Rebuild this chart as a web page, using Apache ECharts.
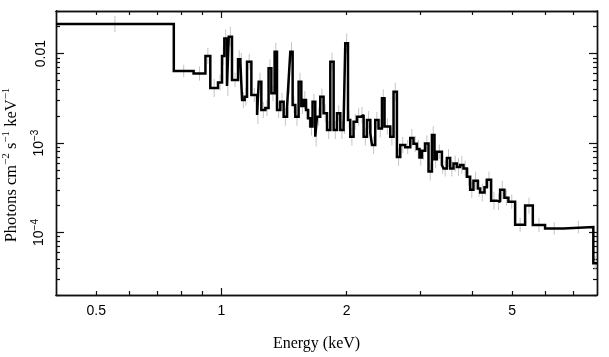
<!DOCTYPE html>
<html><head><meta charset="utf-8">
<script src="https://cdn.jsdelivr.net/npm/echarts@6/dist/echarts.min.js"></script>
<style>html,body{margin:0;padding:0;background:#fff}#c{width:609px;height:357px}</style>
</head><body><div id="c"></div>
<script>
// Bin edges (keV)
const binEdges = [0.4,0.768,0.857,0.915,0.940,0.981,1.003,1.016,1.031,1.041,1.060,1.096,1.110,1.121,1.137,1.152,1.180,1.218,1.229,1.247,1.275,1.298,1.318,1.342,1.360,1.385,1.411,1.438,1.448,1.464,1.483,1.505,1.533,1.556,1.576,1.597,1.615,1.636,1.656,1.681,1.697,1.728,1.760,1.794,1.827,1.861,1.896,1.931,1.966,1.985,2.015,2.040,2.078,2.118,2.157,2.197,2.238,2.280,2.301,2.343,2.386,2.432,2.467,2.546,2.593,2.642,2.691,2.766,2.844,2.896,2.951,2.994,3.034,3.090,3.147,3.207,3.253,3.296,3.389,3.419,3.484,3.548,3.614,3.682,3.750,3.819,3.892,3.963,4.036,4.136,4.189,4.290,4.347,4.451,4.594,4.679,4.791,4.898,5.084,5.373,5.607,6.001,6.641,7.839,8.0];
// Flux per bin (photons cm^-2 s^-1 keV^-1)
const flux = [0.0215,0.0064,0.0060,0.0094,0.00413,0.00476,0.0094,0.0148,0.00435,0.0155,
0.00508,0.00865,0.00813,0.00303,0.00330,0.00813,0.00345,0.00206,0.00486,0.00234,
0.00247,0.00686,0.00360,0.0105,0.00234,0.00290,0.00197,0.00255,0.00446,0.0105,
0.00267,0.00197,0.00486,0.00260,0.00303,0.00234,0.00189,0.00153,0.00290,0.00118,
0.00197,0.00330,0.00215,0.00140,0.00813,0.00140,0.00215,0.00140,0.00159,0.01305,
0.00181,0.00118,0.00173,0.00197,0.00206,0.00118,0.00181,0.00129,0.00095,0.00181,
0.00146,0.00317,0.00153,0.00118,0.00376,0.00070,0.00095,0.00090,0.00114,0.00098,
0.00086,0.00069,0.00082,0.00099,0.00048,0.00123,0.00066,0.00080,0.00057,0.00052,
0.00068,0.00052,0.00059,0.00054,0.00057,0.00052,0.00042,0.00030,0.00038,0.00031,
0.00028,0.00032,0.00039,0.000227,0.000221,0.00030,0.000245,0.000221,0.000122,0.000200,
0.000121,0.000111,0.000115,0.0000452];
// Error bar half-length per bin (dex)
const errDex = [0.09,0.07,0.08,0.09,0.1,0.09,0.1,0.1,0.11,0.11,
0.08,0.1,0.1,0.09,0.1,0.09,0.08,0.1,0.1,0.09,
0.09,0.1,0.09,0.1,0.09,0.1,0.1,0.09,0.1,0.11,
0.09,0.1,0.1,0.09,0.1,0.09,0.1,0.1,0.09,0.11,
0.1,0.09,0.1,0.1,0.1,0.1,0.09,0.1,0.1,0.11,
0.1,0.1,0.09,0.1,0.09,0.1,0.1,0.1,0.1,0.09,
0.1,0.1,0.09,0.1,0.1,0.1,0.09,0.08,0.1,0.09,
0.1,0.09,0.1,0.09,0.1,0.1,0.1,0.08,0.1,0.09,
0.1,0.09,0.09,0.1,0.1,0.09,0.1,0.09,0.1,0.09,
0.1,0.09,0.09,0.1,0.09,0.1,0.09,0.08,0.08,0.09,
0.08,0.07,0.07,0.08];

const xRange = [0.4, 8];
const yRange = [2e-5, 0.03];
const xMajorTicks = [1];
const xMinorTicks = [0.5,0.6,0.7,0.8,0.9,2,3,4,5,6,7];
const xTickLabels = [0.5,1,2,5];
const yMajorTicks = [1e-4,1e-3,1e-2];
const yMinorTicks = [2e-5,3e-5,4e-5,5e-5,6e-5,7e-5,8e-5,9e-5,2e-4,3e-4,4e-4,5e-4,6e-4,7e-4,8e-4,9e-4,2e-3,3e-3,4e-3,5e-3,6e-3,7e-3,8e-3,9e-3,0.02,0.03];
const yTickLabels = [1e-4,1e-3,1e-2];

const L = Math.log10;
const stepData = [];
for (let i = 0; i < flux.length; i++) {
  stepData.push([L(binEdges[i]), L(flux[i])]);
  stepData.push([L(binEdges[i+1]), L(flux[i])]);
}
const errData = flux.map((f, i) => {
  const c = (L(binEdges[i]) + L(binEdges[i+1])) / 2;
  return [c, L(f) - errDex[i], L(f) + errDex[i]];
});

const lineCol = '#111';
const sans = 'Liberation Sans';
const serif = 'Liberation Serif';

function xAx(pos, ticks, len, labels) {
  return {
    type: 'value', position: pos, min: L(xRange[0]), max: L(xRange[1]),
    axisLine: {show: true, onZero: false, lineStyle: {color: lineCol, width: 1.4}},
    axisTick: {show: true, inside: true, length: len, customValues: ticks.map(L), lineStyle: {color: lineCol, width: 1.2}},
    axisLabel: labels ? {show: true, customValues: xTickLabels.map(L), margin: 9, fontFamily: sans, fontSize: 14, color: '#000',
      formatter: v => String(Math.round(Math.pow(10, v) * 100) / 100)} : {show: false},
    splitLine: {show: false}
  };
}
function yAx(pos, ticks, len, labels) {
  return {
    type: 'value', position: pos, min: L(yRange[0]), max: L(yRange[1]),
    axisLine: {show: true, onZero: false, lineStyle: {color: lineCol, width: 1.4}},
    axisTick: {show: true, inside: true, length: len, customValues: ticks.map(L), lineStyle: {color: lineCol, width: 1.2}},
    axisLabel: labels ? {show: true, customValues: yTickLabels.map(L), rotate: 90, margin: 8, fontFamily: sans, fontSize: 14, color: '#000',
      formatter: v => { const e = Math.round(v); return e === -2 ? '0.01' : '{b|10}{s|−' + (-e) + '}'; },
      rich: {b: {fontFamily: sans, fontSize: 14, color: '#000', lineHeight: 18}, s: {fontFamily: sans, fontSize: 10, color: '#000', verticalAlign: 'top', lineHeight: 10}}
    } : {show: false},
    splitLine: {show: false}
  };
}

const xAxes = [xAx('bottom', xMajorTicks, 7, true), xAx('bottom', xMinorTicks, 4, false), xAx('top', xMajorTicks, 7, false), xAx('top', xMinorTicks, 4, false)];
Object.assign(xAxes[0], {name: 'Energy (keV)', nameLocation: 'middle', nameGap: 41,
  nameTextStyle: {fontFamily: serif, fontSize: 16, color: '#000', padding: [0, 20, 0, 0]}});
const yAxes = [yAx('left', yMajorTicks, 8, true), yAx('left', yMinorTicks, 4, false), yAx('right', yMajorTicks, 8, false), yAx('right', yMinorTicks, 4, false)];
Object.assign(yAxes[0], {name: 'Photons cm{s|−2} s{s|−1} keV{s|−1}', nameLocation: 'middle', nameGap: 28, nameRotate: 90,
  nameTextStyle: {fontFamily: serif, fontSize: 16.5, color: '#000', lineHeight: 21, padding: [0, 24, 0, 0],
    rich: {s: {fontFamily: serif, fontSize: 11, color: '#000', verticalAlign: 'top', lineHeight: 11}}}});

const chart = echarts.init(document.getElementById('c'), null, {renderer: 'canvas'});
chart.setOption({
  animation: false,
  backgroundColor: '#fff',
  grid: {left: 56, right: 12, top: 11, bottom: 62, containLabel: false, outerBoundsMode: 'none'},
  xAxis: xAxes,
  yAxis: yAxes,
  series: [
    {type: 'custom', xAxisIndex: 0, yAxisIndex: 0, clip: true, data: errData, encode: {x: 0, y: [1, 2]},
      renderItem: (params, api) => {
        const p1 = api.coord([api.value(0), api.value(1)]);
        const p2 = api.coord([api.value(0), api.value(2)]);
        return {type: 'line', shape: {x1: p1[0], y1: p1[1], x2: p2[0], y2: p2[1]}, style: {stroke: '#c4c4c4', lineWidth: 1}};
      }, z: 1},
    {type: 'line', xAxisIndex: 0, yAxisIndex: 0, data: stepData, showSymbol: false, symbol: 'none', clip: true,
      lineStyle: {color: '#000', width: 2.5, join: 'miter', miterLimit: 1.5}, z: 3}
  ]
});
</script></body></html>
